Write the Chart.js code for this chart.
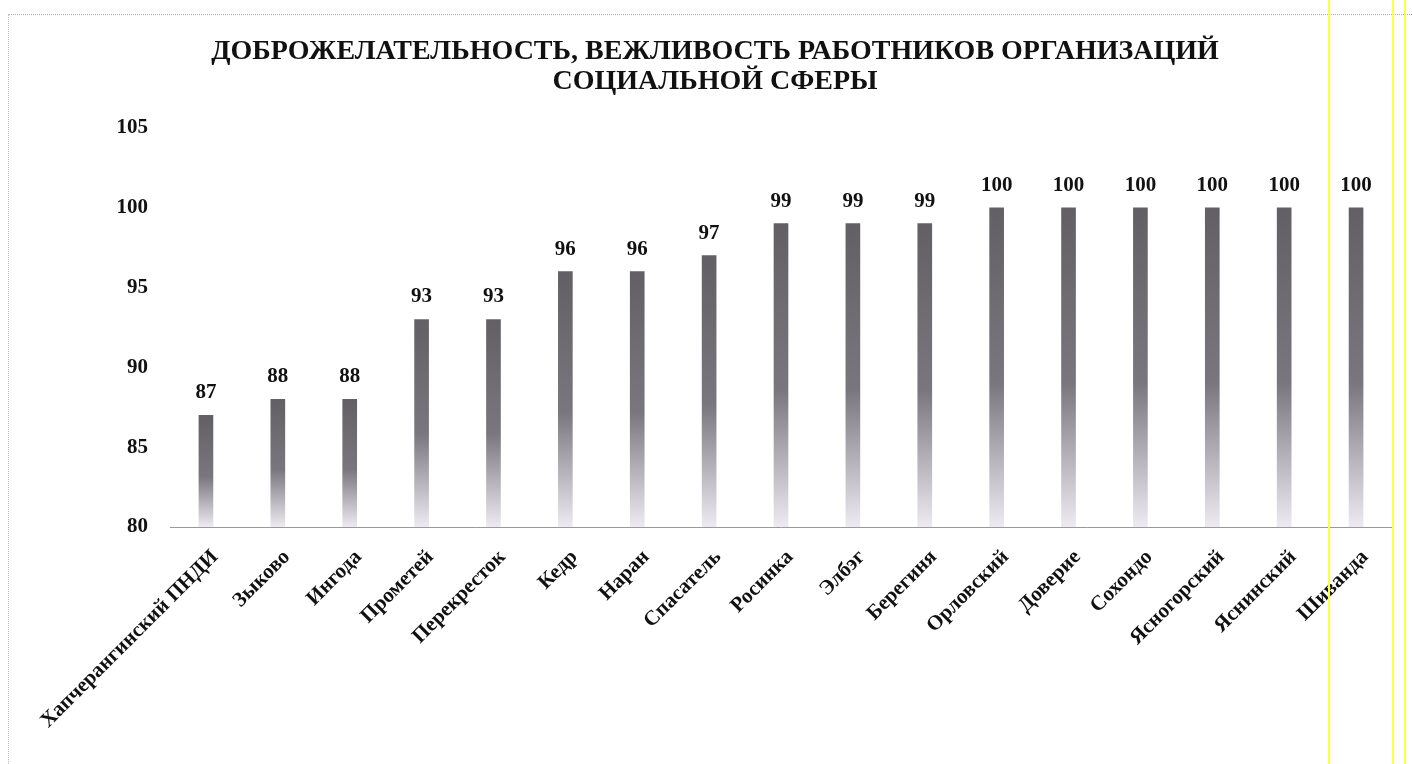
<!DOCTYPE html>
<html>
<head>
<meta charset="utf-8">
<script src="https://cdn.jsdelivr.net/npm/chart.js@4"></script>
<style>
  body { margin: 0; background: #fff; }
  #wrap { position: relative; width: 1412px; height: 764px; }
  #frame { position: absolute; left: 8px; top: 14px; right: 0; bottom: 0;
           border-top: 1px dotted #aaa; border-left: 1px dotted #bbb; pointer-events: none; }
  .yl { position: absolute; top: 0; bottom: 0; width: 2px; background: #ffff44; }
</style>
</head>
<body>
<div id="wrap">
  <canvas id="chart" width="1412" height="764"></canvas>
  <div id="frame"></div>
  <div class="yl" style="left:1328px"></div>
  <div class="yl" style="left:1392px"></div>
  <div class="yl" style="left:1404px"></div>
</div>
<script>
// данные с картинки
const labels = ["Хапчерангинский ПНДИ", "Зыково", "Ингода", "Прометей", "Перекресток", "Кедр", "Наран",
  "Спасатель", "Росинка", "Элбэг", "Берегиня", "Орловский", "Доверие", "Сохондо", "Ясногорский",
  "Яснинский", "Шиванда"];
const values = [87, 88, 88, 93, 93, 96, 96, 97, 99, 99, 99, 100, 100, 100, 100, 100, 100];
const yTicks = [80, 85, 90, 95, 100, 105];
const title = ["ДОБРОЖЕЛАТЕЛЬНОСТЬ, ВЕЖЛИВОСТЬ РАБОТНИКОВ ОРГАНИЗАЦИЙ", "СОЦИАЛЬНОЙ СФЕРЫ"];

const serif = "'Liberation Serif', 'Times New Roman', serif";

function barFill(ctx) {
  const chart = ctx.chart;
  if (!chart.chartArea || ctx.dataIndex === undefined) return "#777";
  const y = chart.scales.y;
  const top = y.getPixelForValue(values[ctx.dataIndex]);
  const bottom = y.getPixelForValue(80);
  const g = chart.ctx.createLinearGradient(0, top, 0, bottom);
  g.addColorStop(0, "#626064");
  g.addColorStop(0.55, "#7a767e");
  g.addColorStop(1, "#eeeaf2");
  return g;
}

// подписи значений над столбиками
const valueLabels = {
  id: "valueLabels",
  afterDatasetsDraw(chart) {
    const ctx = chart.ctx;
    const meta = chart.getDatasetMeta(0);
    ctx.save();
    ctx.font = "bold 21px " + serif;
    ctx.fillStyle = "#111";
    ctx.textAlign = "center";
    ctx.textBaseline = "bottom";
    meta.data.forEach((bar, i) => {
      ctx.fillText(values[i], bar.x, bar.y - 12);
    });
    ctx.restore();
  }
};

new Chart(document.getElementById("chart"), {
  type: "bar",
  data: {
    labels: labels,
    datasets: [{
      data: values,
      backgroundColor: barFill,
      barThickness: 14
    }]
  },
  options: {
    responsive: false,
    animation: false,
    layout: { padding: { left: 38, right: 20, top: 0, bottom: 0 } },
    plugins: {
      legend: { display: false },
      tooltip: { enabled: false },
      title: {
        display: true,
        text: title,
        color: "#111",
        font: { family: serif, size: 28, weight: "bold", lineHeight: 1.07 },
        padding: { top: 37, bottom: 31 }
      }
    },
    scales: {
      x: {
        grid: { display: false, drawTicks: false },
        border: { display: true, color: "#999", dash: [2, 2] },
        ticks: {
          autoSkip: false,
          minRotation: 45,
          maxRotation: 45,
          padding: 18,
          labelOffset: 9,
          color: "#111",
          font: { family: serif, size: 21, weight: "bold" }
        },
        afterFit(scale) { scale.height = 237; }
      },
      y: {
        min: 80,
        max: 105,
        afterBuildTicks(scale) { scale.ticks = yTicks.map(v => ({ value: v })); },
        grid: { display: false, drawTicks: false },
        border: { display: false },
        ticks: {
          padding: 22,
          color: "#111",
          font: { family: serif, size: 21, weight: "bold" }
        },
        afterFit(scale) { scale.width = 132; }
      }
    }
  },
  plugins: [valueLabels]
});
</script>
</body>
</html>
